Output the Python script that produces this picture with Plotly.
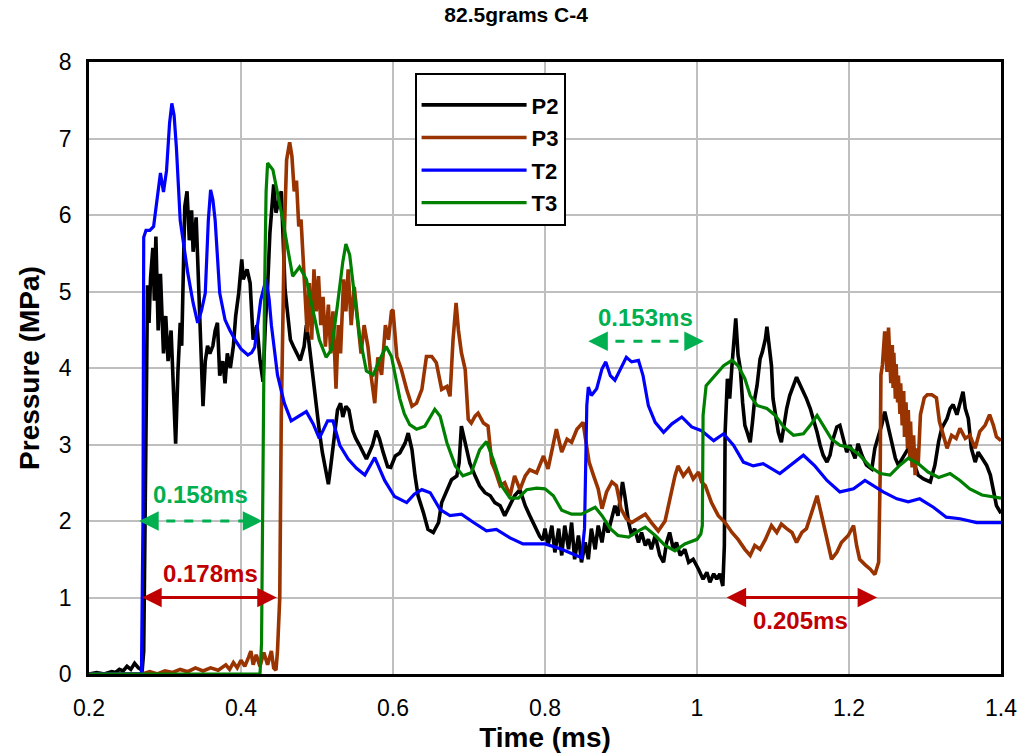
import plotly.graph_objects as go

# ---------------- data ----------------
x_ticks = [0.2, 0.4, 0.6, 0.8, 1.0, 1.2, 1.4]
x_tick_labels = ["0.2", "0.4", "0.6", "0.8", "1", "1.2", "1.4"]
y_ticks = [0, 1, 2, 3, 4, 5, 6, 7, 8]
y_tick_labels = ["0", "1", "2", "3", "4", "5", "6", "7", "8"]

p2_t = [0.200, 0.210, 0.220, 0.230, 0.235, 0.240, 0.245, 0.250, 0.255, 0.260, 0.265, 0.270, 0.272,
        0.275, 0.277, 0.279, 0.281, 0.284, 0.286, 0.288, 0.291, 0.294, 0.298, 0.301, 0.304, 0.308, 0.311,
        0.314, 0.317, 0.320, 0.322, 0.324, 0.326, 0.329, 0.332, 0.335, 0.337, 0.341, 0.344, 0.347, 0.350,
        0.353, 0.356, 0.359, 0.363, 0.366, 0.369, 0.372, 0.376, 0.379, 0.382, 0.386, 0.390, 0.393, 0.397,
        0.401, 0.403, 0.408, 0.412, 0.416, 0.421, 0.425, 0.429, 0.432, 0.435, 0.438, 0.441, 0.443, 0.446,
        0.450, 0.453, 0.455, 0.458, 0.462, 0.465, 0.469, 0.474, 0.478, 0.483, 0.486, 0.489, 0.494, 0.498,
        0.503, 0.507, 0.512, 0.515, 0.518, 0.523, 0.527, 0.531, 0.534, 0.538, 0.542, 0.547, 0.551, 0.556,
        0.560, 0.565, 0.569, 0.573, 0.578, 0.582, 0.587, 0.593, 0.597, 0.603, 0.609, 0.616, 0.620, 0.625,
        0.629, 0.633, 0.640, 0.646, 0.653, 0.660, 0.664, 0.671, 0.677, 0.684, 0.687, 0.690, 0.693, 0.697,
        0.701, 0.708, 0.714, 0.721, 0.728, 0.734, 0.741, 0.747, 0.754, 0.760, 0.767, 0.774, 0.780, 0.787,
        0.793, 0.797, 0.800, 0.804, 0.809, 0.813, 0.818, 0.822, 0.826, 0.831, 0.835, 0.839, 0.844, 0.848,
        0.853, 0.857, 0.861, 0.866, 0.870, 0.875, 0.879, 0.883, 0.888, 0.892, 0.896, 0.902, 0.905, 0.910,
        0.914, 0.918, 0.923, 0.927, 0.932, 0.936, 0.940, 0.945, 0.951, 0.956, 0.960, 0.964, 0.969, 0.973,
        0.978, 0.984, 0.989, 0.995, 1.002, 1.008, 1.013, 1.017, 1.022, 1.026, 1.030, 1.034, 1.036, 1.037,
        1.040, 1.043, 1.046, 1.049, 1.051, 1.054, 1.057, 1.060, 1.063, 1.066, 1.070, 1.073, 1.076, 1.079,
        1.083, 1.086, 1.090, 1.092, 1.095, 1.098, 1.100, 1.104, 1.107, 1.111, 1.115, 1.118, 1.122, 1.127,
        1.131, 1.136, 1.140, 1.144, 1.149, 1.153, 1.158, 1.162, 1.166, 1.171, 1.175, 1.179, 1.184, 1.188,
        1.193, 1.197, 1.201, 1.208, 1.212, 1.217, 1.223, 1.230, 1.234, 1.239, 1.243, 1.247, 1.252, 1.256,
        1.261, 1.265, 1.272, 1.278, 1.285, 1.291, 1.298, 1.307, 1.313, 1.318, 1.322, 1.329, 1.333, 1.337,
        1.342, 1.346, 1.350, 1.353, 1.357, 1.361, 1.366, 1.370, 1.375, 1.381, 1.386, 1.390, 1.394, 1.400]
p2_v = [0.00, 0.02, 0.00, 0.03, 0.02, 0.06, 0.04, 0.10, 0.06, 0.14, 0.08, 0.05, 0.30,
        3.55, 5.08, 4.59, 5.18, 5.57, 4.88, 5.72, 4.49, 5.23, 4.19, 4.68, 4.09, 4.49, 3.70,
        3.01, 3.95, 4.59, 4.29, 5.57, 6.11, 6.31, 5.67, 6.06, 5.52, 5.97, 5.18, 4.44, 3.50,
        4.09, 4.29, 4.19, 4.29, 4.49, 4.59, 3.90, 4.09, 3.80, 4.19, 4.00, 4.29, 4.68, 4.98,
        5.42, 5.16, 5.29, 5.11, 4.37, 4.56, 4.10, 3.82, 4.56, 5.06, 5.76, 6.22, 6.40, 6.03,
        6.22, 6.31, 5.80, 5.02, 4.65, 4.37, 4.28, 4.19, 4.10, 4.28, 4.56, 4.37, 3.91, 3.54,
        3.18, 2.90, 2.62, 2.48, 2.71, 3.13, 3.45, 3.54, 3.36, 3.50, 3.45, 3.18, 3.08, 2.99,
        2.90, 2.81, 2.90, 2.99, 3.18, 3.08, 2.90, 2.71, 2.70, 2.85, 2.89, 3.02, 3.15, 2.93,
        2.59, 2.33, 2.11, 1.89, 1.85, 1.98, 2.24, 2.41, 2.54, 2.59, 2.76, 3.24, 3.11, 2.93,
        2.76, 2.59, 2.46, 2.37, 2.33, 2.24, 2.20, 2.07, 2.20, 2.33, 2.41, 2.20, 2.07, 1.93,
        1.80, 1.75, 1.90, 1.68, 1.94, 1.59, 1.90, 1.55, 1.94, 1.63, 1.98, 1.50, 1.81, 1.46,
        1.72, 1.50, 1.90, 1.63, 1.94, 1.72, 1.98, 1.85, 2.03, 2.20, 2.07, 2.51, 2.33, 1.98,
        1.81, 1.90, 1.72, 1.85, 1.68, 1.76, 1.63, 1.81, 1.55, 1.46, 1.72, 1.85, 1.63, 1.72,
        1.55, 1.63, 1.46, 1.50, 1.37, 1.24, 1.33, 1.20, 1.31, 1.24, 1.31, 1.15, 1.68, 3.16,
        3.86, 3.60, 4.03, 4.38, 4.65, 4.17, 3.99, 3.55, 3.25, 3.16, 3.03, 3.29, 3.60, 3.77,
        4.12, 4.21, 4.38, 4.54, 4.30, 4.03, 3.60, 3.38, 3.16, 3.03, 3.29, 3.47, 3.64, 3.77,
        3.88, 3.77, 3.69, 3.60, 3.47, 3.34, 3.16, 2.99, 2.86, 2.77, 2.86, 3.07, 3.23, 3.25,
        3.07, 2.90, 2.99, 2.82, 3.01, 2.86, 2.73, 2.68, 2.95, 3.12, 3.25, 3.43, 3.21, 3.04,
        2.82, 2.73, 2.86, 2.95, 2.77, 2.60, 2.55, 2.51, 2.73, 3.04, 3.21, 3.34, 3.47, 3.52,
        3.39, 3.56, 3.69, 3.47, 3.34, 2.95, 2.77, 2.90, 2.82, 2.73, 2.60, 2.42, 2.20, 2.10]

p3_t = [0.200, 0.270, 0.280, 0.290, 0.300, 0.310, 0.320, 0.330, 0.340, 0.350, 0.360, 0.370, 0.380,
        0.385, 0.390, 0.395, 0.400, 0.405, 0.410, 0.413, 0.416, 0.420, 0.425, 0.430, 0.435, 0.440,
        0.443, 0.446, 0.448, 0.451, 0.453, 0.455, 0.457, 0.460, 0.464, 0.467, 0.470, 0.473, 0.476,
        0.479, 0.482, 0.485, 0.487, 0.490, 0.493, 0.496, 0.499, 0.502, 0.505, 0.508, 0.511, 0.515,
        0.518, 0.521, 0.525, 0.528, 0.531, 0.535, 0.538, 0.541, 0.545, 0.549, 0.554, 0.558, 0.562,
        0.567, 0.571, 0.576, 0.580, 0.585, 0.590, 0.594, 0.598, 0.600, 0.605, 0.611, 0.618, 0.625,
        0.631, 0.638, 0.644, 0.651, 0.657, 0.664, 0.671, 0.675, 0.679, 0.683, 0.686, 0.690, 0.695,
        0.699, 0.703, 0.708, 0.712, 0.719, 0.725, 0.730, 0.734, 0.741, 0.747, 0.754, 0.760, 0.767,
        0.774, 0.780, 0.789, 0.798, 0.804, 0.809, 0.815, 0.822, 0.829, 0.835, 0.842, 0.850, 0.854,
        0.858, 0.864, 0.870, 0.875, 0.881, 0.888, 0.894, 0.900, 0.907, 0.914, 0.923, 0.932, 0.940,
        0.949, 0.958, 0.964, 0.971, 0.975, 0.982, 0.989, 0.995, 1.002, 1.006, 1.011, 1.019, 1.028,
        1.037, 1.046, 1.054, 1.063, 1.070, 1.076, 1.083, 1.090, 1.098, 1.105, 1.111, 1.118, 1.125,
        1.131, 1.138, 1.144, 1.151, 1.158, 1.164, 1.171, 1.177, 1.184, 1.190, 1.199, 1.206, 1.210,
        1.214, 1.221, 1.228, 1.234, 1.239, 1.241, 1.242, 1.244, 1.247, 1.250, 1.252, 1.255, 1.257,
        1.258, 1.259, 1.261, 1.262, 1.264, 1.265, 1.267, 1.268, 1.270, 1.272, 1.273, 1.275, 1.277,
        1.278, 1.280, 1.281, 1.283, 1.285, 1.287, 1.289, 1.291, 1.294, 1.299, 1.303,
        1.309, 1.315, 1.319, 1.324, 1.329, 1.335, 1.341, 1.346, 1.353, 1.359, 1.366, 1.372, 1.379,
        1.385, 1.390, 1.394, 1.400]
p3_v = [0.00, 0.00, 0.03, 0.00, 0.04, 0.02, 0.06, 0.03, 0.08, 0.04, 0.08, 0.05, 0.12,
        0.06, 0.15, 0.08, 0.18, 0.10, 0.22, 0.30, 0.12, 0.25, 0.10, 0.28, 0.12, 0.30,
        0.08, 0.05, 0.30, 1.00, 3.36, 4.47, 5.76, 6.72, 6.95, 6.77, 6.31, 6.45, 5.85,
        5.94, 5.34, 4.93, 4.47, 5.11, 4.37, 5.29, 4.74, 5.20, 4.56, 4.93, 4.28, 4.83,
        4.19, 4.74, 3.73, 4.56, 4.19, 5.16, 4.74, 5.29, 4.56, 5.06, 4.56, 4.19, 4.56,
        4.28, 3.91, 3.54, 4.14, 3.91, 4.56, 4.37, 4.74, 4.76, 4.15, 3.98, 3.72, 3.50,
        3.54, 3.72, 4.15, 4.15, 4.07, 3.72, 3.76, 3.63, 4.37, 4.85, 4.50, 4.20, 3.98,
        3.33, 3.28, 3.37, 3.41, 3.28, 3.24, 2.76, 2.67, 2.46, 2.50, 2.33, 2.59, 2.41,
        2.59, 2.67, 2.63, 2.85, 2.68, 2.94, 3.20, 2.90, 3.07, 3.03, 3.20, 3.29, 3.03,
        2.77, 2.59, 2.42, 2.16, 2.38, 2.51, 2.46, 2.16, 2.03, 1.98, 2.03, 2.09, 1.98,
        1.87, 2.00, 2.29, 2.59, 2.72, 2.59, 2.68, 2.55, 2.64, 2.51, 2.46, 2.24, 2.07,
        1.98, 1.85, 1.76, 1.63, 1.55, 1.68, 1.63, 1.76, 1.94, 1.85, 1.96, 1.90, 1.85,
        1.72, 1.85, 1.90, 2.11, 2.33, 2.07, 1.76, 1.50, 1.59, 1.72, 1.81, 1.94, 1.68,
        1.50, 1.43, 1.37, 1.30, 1.46, 2.60, 3.91, 4.04, 4.48, 3.95, 4.53, 3.80, 4.30,
        3.74, 4.20, 3.60, 4.05, 3.55, 3.90, 3.40, 3.80, 3.25, 3.70, 3.10, 3.55, 2.95,
        3.45, 2.80, 3.30, 2.70, 3.12, 2.60, 2.95, 2.73, 3.39, 3.61, 3.65,
        3.65, 3.61, 3.30, 3.12, 2.95, 3.12, 3.08, 3.21, 3.08, 3.12, 2.95, 3.17, 3.25,
        3.39, 3.25, 3.10, 3.05]

t2_t = [0.200, 0.269, 0.271, 0.272, 0.275, 0.280, 0.285, 0.290, 0.294, 0.298, 0.302, 0.306, 0.309,
        0.312, 0.315, 0.320, 0.330, 0.337, 0.343, 0.348, 0.353, 0.357, 0.360, 0.363, 0.366, 0.372,
        0.379, 0.385, 0.392, 0.400, 0.409, 0.414, 0.418, 0.426, 0.433, 0.437, 0.440, 0.448, 0.457,
        0.466, 0.475, 0.486, 0.495, 0.503, 0.514, 0.521, 0.530, 0.541, 0.552, 0.563, 0.576, 0.589,
        0.602, 0.611, 0.618, 0.628, 0.638, 0.649, 0.662, 0.675, 0.690, 0.706, 0.723, 0.736, 0.754,
        0.771, 0.789, 0.800, 0.822, 0.848, 0.852, 0.855, 0.857, 0.861, 0.868, 0.875, 0.880, 0.886,
        0.892, 0.899, 0.907, 0.914, 0.923, 0.929, 0.936, 0.945, 0.956, 0.967, 0.980, 0.993, 1.006,
        1.022, 1.035, 1.048, 1.061, 1.074, 1.087, 1.109, 1.122, 1.140, 1.155, 1.171, 1.188, 1.206,
        1.221, 1.245, 1.263, 1.278, 1.293, 1.311, 1.328, 1.346, 1.368, 1.400]
t2_v = [0.00, 0.00, 2.00, 5.71, 5.80, 5.80, 5.85, 6.20, 6.55, 6.30, 6.58, 7.20, 7.46,
        7.30, 6.88, 5.93, 5.24, 4.85, 4.59, 4.75, 4.98, 5.93, 6.33, 6.20, 5.93, 4.98,
        4.63, 4.50, 4.37, 4.25, 4.17, 4.20, 4.27, 4.89, 5.16, 4.90, 4.56, 3.91, 3.54,
        3.31, 3.36, 3.43, 3.27, 3.08, 3.31, 3.31, 2.99, 2.81, 2.69, 2.60, 2.83, 2.53,
        2.32, 2.28, 2.24, 2.35, 2.41, 2.37, 2.15, 2.07, 2.09, 1.98, 1.87, 1.89, 1.78,
        1.70, 1.70, 1.70, 1.63, 1.52, 1.90, 3.51, 3.75, 3.64, 3.73, 3.99, 4.08, 3.90,
        3.84, 3.99, 4.14, 4.08, 4.10, 3.90, 3.51, 3.29, 3.16, 3.27, 3.36, 3.23, 3.18,
        3.05, 3.14, 2.99, 2.77, 2.72, 2.75, 2.62, 2.72, 2.86, 2.72, 2.53, 2.38, 2.42,
        2.53, 2.38, 2.29, 2.25, 2.29, 2.18, 2.05, 2.03, 1.98, 1.98]

t3_t = [0.200, 0.425, 0.427, 0.429, 0.431, 0.433, 0.435, 0.442, 0.448, 0.455, 0.462, 0.468, 0.477,
        0.486, 0.495, 0.503, 0.512, 0.519, 0.527, 0.534, 0.538, 0.543, 0.549, 0.556, 0.565, 0.574,
        0.582, 0.591, 0.598, 0.604, 0.609, 0.615, 0.622, 0.631, 0.642, 0.655, 0.662, 0.671, 0.682,
        0.692, 0.703, 0.714, 0.723, 0.732, 0.743, 0.754, 0.765, 0.776, 0.789, 0.800, 0.811, 0.822,
        0.835, 0.848, 0.859, 0.866, 0.875, 0.886, 0.896, 0.910, 0.923, 0.932, 0.945, 0.958, 0.971,
        0.984, 1.000, 1.005, 1.007, 1.008, 1.012, 1.022, 1.035, 1.046, 1.054, 1.063, 1.070, 1.079,
        1.092, 1.103, 1.114, 1.127, 1.140, 1.149, 1.158, 1.166, 1.177, 1.188, 1.201, 1.214, 1.228,
        1.241, 1.254, 1.267, 1.278, 1.291, 1.304, 1.318, 1.333, 1.346, 1.359, 1.375, 1.400]
t3_v = [0.00, 0.00, 0.40, 2.80, 5.00, 6.30, 6.68, 6.59, 6.31, 5.94, 5.53, 5.20, 5.32,
        5.16, 4.74, 4.37, 4.14, 4.24, 4.83, 5.39, 5.62, 5.48, 4.97, 4.42, 3.96, 3.91,
        4.10, 4.28, 4.15, 3.85, 3.60, 3.40, 3.26, 3.20, 3.24, 3.46, 3.37, 3.02, 2.72,
        2.59, 2.63, 2.93, 3.04, 2.80, 2.46, 2.30, 2.30, 2.41, 2.43, 2.42, 2.33, 2.14,
        2.09, 2.09, 2.14, 2.18, 2.07, 1.90, 1.81, 1.79, 1.87, 1.92, 1.81, 1.68, 1.61,
        1.70, 1.76, 1.83, 1.94, 3.38, 3.77, 3.88, 4.03, 4.10, 4.03, 3.86, 3.64, 3.51,
        3.47, 3.38, 3.23, 3.12, 3.14, 3.25, 3.38, 3.25, 3.07, 2.99, 2.96, 2.86, 2.71,
        2.62, 2.60, 2.73, 2.82, 2.75, 2.64, 2.57, 2.62, 2.53, 2.42, 2.34, 2.30]

series_names = ["P2", "P3", "T2", "T3"]
series_colors = ["#000000", "#993300", "#0000FF", "#008000"]
series_widths = [3.6, 3.6, 3.2, 3.2]

# interval annotations: (label, t_start, t_end, level, label_t, label_v, colour, dashed)
intervals = [
    ("0.158ms", 0.266, 0.428, 2.0, 0.347, 2.35, "#00B050", True),
    ("0.178ms", 0.268, 0.447, 1.0, 0.360, 1.32, "#C00000", False),
    ("0.153ms", 0.857, 1.009, 4.35, 0.932, 4.66, "#00B050", True),
    ("0.205ms", 1.037, 1.237, 1.0, 1.136, 0.70, "#C00000", False),
]

# ---------------- figure ----------------
FONT = "Liberation Sans, Arial, sans-serif"

fig = go.Figure()
for name, color, w, tt, vv in zip(series_names, series_colors, series_widths,
                                  [p2_t, p3_t, t2_t, t3_t], [p2_v, p3_v, t2_v, t3_v]):
    fig.add_trace(go.Scatter(x=tt, y=vv, mode="lines", name="<b>%s</b>" % name, legendgroup=name,
                             line=dict(color=color, width=w)))

for label, t0, t1, lvl, lt, lv, col, dashed in intervals:
    if dashed:
        fig.add_shape(type="line", x0=t0 + 0.012, x1=t1 - 0.012, y0=lvl, y1=lvl,
                      xref="x", yref="y", line=dict(color=col, width=3, dash="dash"))
        for tip, tail in ((t1, t1 - 0.014), (t0, t0 + 0.014)):
            fig.add_annotation(x=tip, y=lvl, ax=tail, ay=lvl, axref="x", ayref="y",
                               xref="x", yref="y", text="", showarrow=True,
                               arrowhead=2, arrowsize=1.3, arrowwidth=3, arrowcolor=col)
    else:
        fig.add_annotation(x=t1, y=lvl, ax=t0, ay=lvl, axref="x", ayref="y",
                           xref="x", yref="y", text="", showarrow=True,
                           arrowhead=2, startarrowhead=2, arrowside="end+start",
                           arrowsize=1.3, startarrowsize=1.3, arrowwidth=3, arrowcolor=col)
    fig.add_annotation(x=lt, y=lv, xref="x", yref="y", text="<b>%s</b>" % label,
                       showarrow=False, font=dict(family=FONT, size=24, color=col))

fig.update_layout(
    width=1018, height=755,
    margin=dict(l=89, r=17, t=62, b=81, autoexpand=False),
    paper_bgcolor="white", plot_bgcolor="white",
    title=dict(text="<b>82.5grams C-4</b>", x=0.507, xanchor="center", y=0.981, yanchor="middle",
               font=dict(family=FONT, size=21, color="black")),
    showlegend=True,
    legend=dict(x=0.357, y=0.982, xanchor="left", yanchor="top",
                bgcolor="white", bordercolor="black", borderwidth=2,
                font=dict(family=FONT, size=22, color="black"),
                title=dict(text=" ", font=dict(size=7)),
                tracegroupgap=1, itemwidth=105),
    xaxis=dict(range=[0.2, 1.4], tickvals=x_ticks, ticktext=x_tick_labels, automargin=False,
               showgrid=True, gridcolor="#BFBFBF", gridwidth=2,
               showline=True, linecolor="black", linewidth=2.5, mirror=True,
               ticks="", ticklabelstandoff=12, zeroline=False,
               tickfont=dict(family=FONT, size=23, color="black"),
               title=dict(text="<b>Time (ms)</b>", standoff=8,
                          font=dict(family=FONT, size=28, color="black"))),
    yaxis=dict(range=[0, 8], tickvals=y_ticks, ticktext=y_tick_labels, automargin=False,
               showgrid=True, gridcolor="#BFBFBF", gridwidth=2,
               showline=True, linecolor="black", linewidth=2.5, mirror=True,
               ticks="", ticklabelstandoff=10, zeroline=False,
               tickfont=dict(family=FONT, size=23, color="black"),
               title=dict(text="<b>Pressure (MPa)</b>", standoff=12,
                          font=dict(family=FONT, size=28, color="black"))),
)

fig.write_html("out.html")
